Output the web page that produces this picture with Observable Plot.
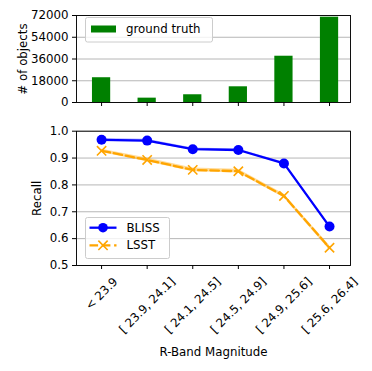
<!DOCTYPE html>
<html>
<head>
<meta charset="utf-8">
<script src="https://cdn.jsdelivr.net/npm/d3@7"></script>
<script src="https://cdn.jsdelivr.net/npm/@observablehq/plot@0.6"></script>
<style>
html,body{margin:0;padding:0;background:#fff;}
#chart{position:relative;width:372px;height:371px;font-family:"DejaVu Sans",sans-serif;}
#chart svg{position:absolute;left:0;overflow:visible;font-family:"DejaVu Sans",sans-serif;}
</style>
</head>
<body>
<div id="chart"></div>
<script>
// ---- data ----
const categories = ["< 23.9", "[ 23.9, 24.1]", "[ 24.1, 24.5]", "[ 24.5, 24.9]", "[ 24.9, 25.6]", "[ 25.6, 26.4]"];
const groundTruth = [20500, 3600, 6400, 13000, 38300, 70600];
const blissRecall = [0.968, 0.965, 0.933, 0.930, 0.880, 0.645];
const blissLo     = [0.963, 0.959, 0.929, 0.926, 0.876, 0.640];
const blissHi     = [0.973, 0.970, 0.937, 0.934, 0.884, 0.650];
const lsstRecall  = [0.927, 0.893, 0.856, 0.851, 0.759, 0.566];
const lsstLo      = [0.921, 0.886, 0.849, 0.844, 0.752, 0.558];
const lsstHi      = [0.933, 0.900, 0.863, 0.858, 0.766, 0.574];
const countTicks  = [0, 18000, 36000, 54000, 72000];
const recallTicks = [0.5, 0.6, 0.7, 0.8, 0.9, 1.0];

const idx = categories.map((_, i) => i);
const bars = idx.map(i => ({i, count: groundTruth[i]}));
const bliss = idx.map(i => ({i, v: blissRecall[i], lo: blissLo[i], hi: blissHi[i]}));
const lsst = idx.map(i => ({i, v: lsstRecall[i], lo: lsstLo[i], hi: lsstHi[i]}));

const W = 372, ML = 76, MR = 22;
const FS = 11.8;
const xDomain = [-0.55, 5.46];
const grid = "#b0b0b0";
const chart = document.getElementById("chart");
const baseStyle = {fontSize: FS + "px", fontFamily: "DejaVu Sans", color: "black", background: "transparent"};

// ---- top panel ----
const topPlot = Plot.plot({
  width: W, height: 110,
  marginLeft: ML, marginRight: MR, marginTop: 15, marginBottom: 8,
  style: baseStyle,
  x: {type: "linear", domain: xDomain},
  y: {domain: [0, 72000]},
  marks: [
    Plot.gridY(countTicks, {stroke: grid, strokeOpacity: 1, strokeWidth: 0.93}),
    Plot.rectY(bars, {x1: d => d.i - 0.2, x2: d => d.i + 0.2, y: "count", fill: "#008000"}),
    Plot.axisY(countTicks, {tickSize: 4, tickPadding: 4, tickFormat: d => String(d), label: null, fontSize: FS}),
    Plot.axisX(idx, {tickSize: 4, tickFormat: () => "", label: null}),
    Plot.text(["# of objects"], {frameAnchor: "left", dx: -53, rotate: -90, text: d => d, fontSize: FS, textAnchor: "middle", lineAnchor: "middle"}),
    Plot.frame({stroke: "black", strokeWidth: 0.93})
  ]
});
topPlot.style.top = "0px";
chart.appendChild(topPlot);

// legend top
{
  const g = d3.select(topPlot).append("g").attr("text-anchor", "start").attr("font-size", FS);
  g.append("rect").attr("x", 85.5).attr("y", 17.5).attr("width", 127).attr("height", 24.5)
    .attr("rx", 2).attr("fill", "white").attr("fill-opacity", 0.8).attr("stroke", "#cccccc").attr("stroke-width", 1);
  g.append("rect").attr("x", 91).attr("y", 25.5).attr("width", 25).attr("height", 7).attr("fill", "#008000");
  g.append("text").attr("x", 126).attr("y", 29).attr("dy", "0.35em").text("ground truth");
}

// ---- bottom panel ----
const canvas = document.createElement("canvas");
const ctx = canvas.getContext("2d");
ctx.font = FS + "px 'DejaVu Sans'";
const labelMarks = categories.map((c, i) => {
  const w = ctx.measureText(c).width;
  const half = (w + 1.164 * FS) * Math.SQRT1_2 / 2;
  return Plot.text([c], {x: () => i, text: d => d, frameAnchor: "bottom", rotate: -45,
    textAnchor: "middle", lineAnchor: "middle", dy: 9.3 + half, fontSize: FS});
});

const bottomPlot = Plot.plot({
  width: W, height: 261,
  marginLeft: ML, marginRight: MR, marginTop: 20.7, marginBottom: 106,
  style: baseStyle,
  x: {type: "linear", domain: xDomain},
  y: {domain: [0.5, 1.0]},
  marks: [
    Plot.gridY(recallTicks, {stroke: grid, strokeOpacity: 1, strokeWidth: 0.93}),
    Plot.areaY(bliss, {x: "i", y1: "lo", y2: "hi", fill: "#0000ff", fillOpacity: 0.3}),
    Plot.areaY(lsst, {x: "i", y1: "lo", y2: "hi", fill: "#ffa500", fillOpacity: 0.4}),
    Plot.line(bliss, {x: "i", y: "v", stroke: "#0000ff", strokeWidth: 2.3}),
    Plot.line(lsst, {x: "i", y: "v", stroke: "#ffa500", strokeWidth: 2.3, strokeDasharray: "8.6,3.7"}),
    Plot.dot(bliss, {x: "i", y: "v", r: 5, fill: "#0000ff"}),
    Plot.dot(lsst, {x: "i", y: "v", r: 4.3, symbol: "times", stroke: "#ffa500", strokeWidth: 1.6}),
    Plot.axisY(recallTicks, {tickSize: 4, tickPadding: 4, tickFormat: d3.format(".1f"), label: null, fontSize: FS}),
    Plot.axisX(idx, {tickSize: 4, tickFormat: () => "", label: null}),
    ...labelMarks,
    Plot.text(["R-Band Magnitude"], {frameAnchor: "bottom", dy: 87, text: d => d, fontSize: FS, lineAnchor: "middle"}),
    Plot.text(["Recall"], {frameAnchor: "left", dx: -39, rotate: -90, text: d => d, fontSize: FS, textAnchor: "middle", lineAnchor: "middle"}),
    Plot.frame({stroke: "black", strokeWidth: 0.93})
  ]
});
bottomPlot.style.top = "110px";
chart.appendChild(bottomPlot);

// legend bottom
{
  const g = d3.select(bottomPlot).append("g").attr("text-anchor", "start").attr("font-size", FS);
  g.append("rect").attr("x", 85.5).attr("y", 107.5).attr("width", 84).attr("height", 41)
    .attr("rx", 2).attr("fill", "white").attr("fill-opacity", 0.8).attr("stroke", "#cccccc").attr("stroke-width", 1);
  const y1 = 117.7, y2 = 135.3;
  g.append("line").attr("x1", 89.5).attr("x2", 116.5).attr("y1", y1).attr("y2", y1).attr("stroke", "#0000ff").attr("stroke-width", 2.3);
  g.append("circle").attr("cx", 103).attr("cy", y1).attr("r", 4.8).attr("fill", "#0000ff");
  g.append("text").attr("x", 126.5).attr("y", y1).attr("dy", "0.35em").text("BLISS");
  g.append("line").attr("x1", 89.5).attr("x2", 116.5).attr("y1", y2).attr("y2", y2).attr("stroke", "#ffa500").attr("stroke-width", 2.3).attr("stroke-dasharray", "8.6,3.7");
  g.append("path").attr("d", d3.symbol(d3.symbolTimes, Math.PI * 4.3 * 4.3)()).attr("transform", `translate(103,${y2})`)
    .attr("fill", "none").attr("stroke", "#ffa500").attr("stroke-width", 1.6);
  g.append("text").attr("x", 126.5).attr("y", y2).attr("dy", "0.35em").text("LSST");
}
</script>
</body>
</html>
